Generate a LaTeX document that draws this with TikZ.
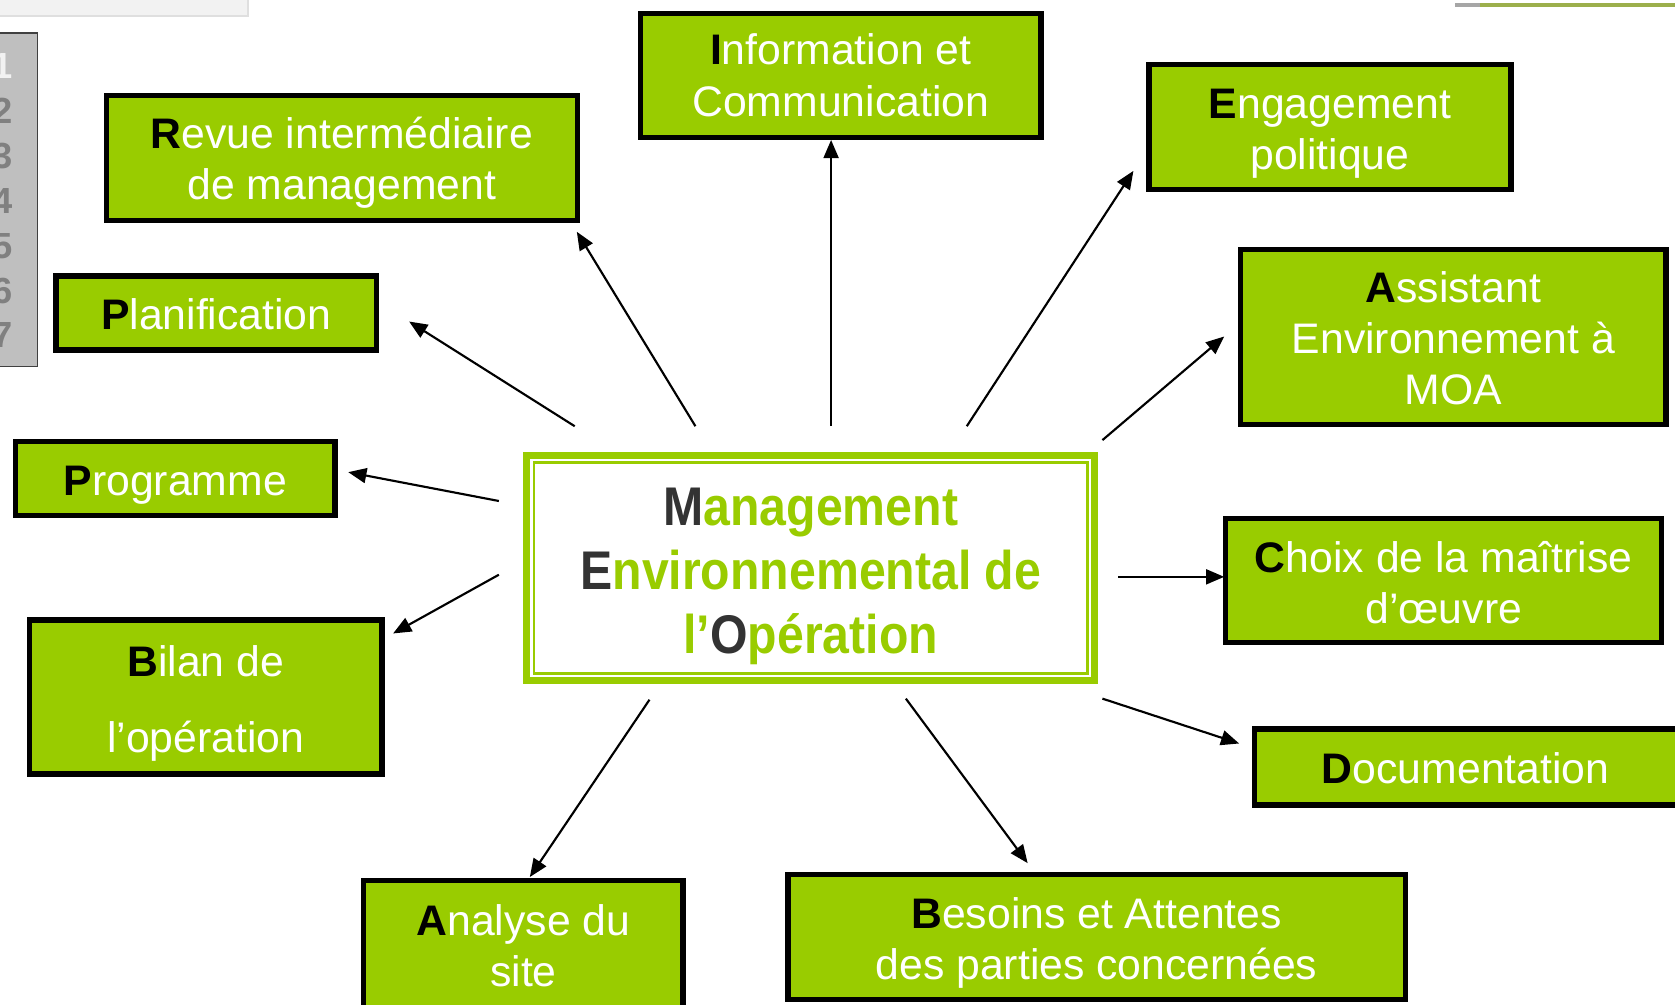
\documentclass[tikz,border=0pt]{standalone}
\usepackage{fontspec}
\setmainfont{Liberation Sans}
\newfontfamily\ctrfont[FakeStretch=0.885]{Liberation Sans}
\usetikzlibrary{arrows.meta}
\definecolor{boxgreen}{HTML}{99CC00}
\definecolor{txtgreen}{HTML}{99CC00}
\definecolor{darkletter}{HTML}{333333}
\definecolor{barback}{HTML}{BFBFBF}
\definecolor{digitgray}{HTML}{808080}
\definecolor{oliveline}{HTML}{9CAF4C}
\newcommand{\Ini}[1]{{\color{black}\bfseries #1}}
\newcommand{\Cin}[1]{{\color{darkletter}#1}}
\begin{document}
\begin{tikzpicture}[x=0.5pt, y=-0.5pt,
  gbox/.style={draw=black, line width=2.5pt, fill=boxgreen, inner sep=0pt, outer sep=0pt},
  gtext/.style={text=white, align=center, font=\fontsize{20}{24}\selectfont, inner sep=0pt},
  arr/.style={line width=1pt, -{Triangle[length=8.5pt,width=7pt]}},
  digit/.style={font=\bfseries\fontsize{17}{17}\selectfont, text=digitgray, inner sep=0pt}]
\useasboundingbox (0,0) rectangle (1568,940.8);

% decorations at the top
\fill[gray!10] (0,0) rectangle (232,15);
\draw[gray!25, line width=0.8pt] (0,15) -- (232,15) -- (232,0);
\draw[gray!70, line width=1.6pt] (1362,4.7) -- (1385,4.7);
\draw[oliveline, line width=1.6pt] (1385,4.7) -- (1568,4.7);

% grey number bar
\draw[fill=barback, draw=black!75, line width=0.8pt] (-10,31) rectangle (35,343);
\node[digit, text=white!95!black] (d1) at (2,62) {1};
\node[digit] (d2) at (2,104) {2};
\node[digit] (d3) at (2,146) {3};
\node[digit] (d4) at (2,188) {4};
\node[digit] (d5) at (2,230) {5};
\node[digit] (d6) at (2,272) {6};
\node[digit] (d7) at (2,314) {7};

% green boxes
\node[gbox, minimum width=187.5pt, minimum height=58pt,
  label={[gtext]center:{\Ini{I}nformation et\\Communication}}] (info) at (787,70.5) {};
\node[gbox, minimum width=220.5pt, minimum height=58.5pt,
  label={[gtext, yshift=-2pt]center:{\Ini{R}evue intermédiaire\\de management}}] (revue) at (320,148) {};
\node[gbox, minimum width=169.5pt, minimum height=58.5pt,
  label={[gtext, yshift=-3pt]center:{\Ini{E}ngagement\\politique}}] (engag) at (1245,119) {};
\node[gbox, minimum width=150pt, minimum height=34.5pt,
  label={[gtext, yshift=-0.5pt]center:{\Ini{P}lanification}}] (planif) at (202.5,293) {};
\node[gbox, minimum width=199pt, minimum height=82pt,
  label={[gtext, yshift=-0.5pt]center:{\Ini{A}ssistant\\Environnement à\\MOA}}] (assist) at (1360.5,315.5) {};
\node[gbox, minimum width=149.5pt, minimum height=34.5pt,
  label={[gtext, yshift=-3pt]center:{\Ini{P}rogramme}}] (prog) at (164,448) {};
\node[gbox, minimum width=204pt, minimum height=58pt,
  label={[gtext, yshift=-1pt]center:{\Ini{C}hoix de la maîtrise\\d’œuvre}}] (choix) at (1351.5,543.5) {};
\node[gbox, minimum width=165pt, minimum height=72pt,
  label={[gtext, yshift=-3pt]center:{\Ini{B}ilan de\\[11.5pt]l’opération}}] (bilan) at (192.5,652.5) {};
\node[gbox, minimum width=206.5pt, minimum height=35.5pt,
  label={[gtext, xshift=-4.5pt, yshift=-0.5pt]center:{\Ini{D}ocumentation}}] (doc) at (1381,718) {};
\node[gbox, minimum width=149.5pt, minimum height=60.5pt,
  label={[gtext]center:{\Ini{A}nalyse du\\site}}] (analyse) at (490,885) {};
\node[gbox, minimum width=289pt, minimum height=58.5pt,
  label={[gtext, yshift=-3pt]center:{\Ini{B}esoins et Attentes\\des parties concernées}}] (besoins) at (1026.5,877) {};

% central box
\node[draw=boxgreen, line width=3.15pt, outer sep=0pt, inner sep=0pt,
  minimum width=265.85pt, minimum height=105.35pt,
  label={[align=center, inner sep=0pt, yshift=-4pt,
    font=\ctrfont\bfseries\fontsize{25.5}{30}\selectfont, text=txtgreen]center:{\Cin{M}anagement\\\Cin{E}nvironnemental de\\l’\Cin{O}pération}}] (mgmt) at (759,531.5) {};
\draw[boxgreen, line width=1.25pt] ([shift={(3.3pt,-3.3pt)}]mgmt.north west) rectangle ([shift={(-3.3pt,3.3pt)}]mgmt.south east);

% arrow end points
\coordinate (tInfo) at (778,399);   \coordinate (hInfo) at (778,131);
\coordinate (tRevue) at (651,399);  \coordinate (hRevue) at (540,217);
\coordinate (tEng) at (905,399);    \coordinate (hEng) at (1061,160);
\coordinate (tPlan) at (538,399);   \coordinate (hPlan) at (383,301);
\coordinate (tAss) at (1032,412);   \coordinate (hAss) at (1146,315);
\coordinate (tProg) at (467,469);   \coordinate (hProg) at (326,442);
\coordinate (tChoix) at (1047,540); \coordinate (hChoix) at (1146,540);
\coordinate (tBil) at (467,538);    \coordinate (hBil) at (368,593);
\coordinate (tDoc) at (1032,654);   \coordinate (hDoc) at (1160,696);
\coordinate (tAna) at (608,655);    \coordinate (hAna) at (496,821);
\coordinate (tBes) at (848,654);    \coordinate (hBes) at (962,808);

\draw[arr] (tInfo) -- (hInfo);
\draw[arr] (tRevue) -- (hRevue);
\draw[arr] (tEng) -- (hEng);
\draw[arr] (tPlan) -- (hPlan);
\draw[arr] (tAss) -- (hAss);
\draw[arr] (tProg) -- (hProg);
\draw[arr] (tChoix) -- (hChoix);
\draw[arr] (tBil) -- (hBil);
\draw[arr] (tDoc) -- (hDoc);
\draw[arr] (tAna) -- (hAna);
\draw[arr] (tBes) -- (hBes);
\end{tikzpicture}
\end{document}
